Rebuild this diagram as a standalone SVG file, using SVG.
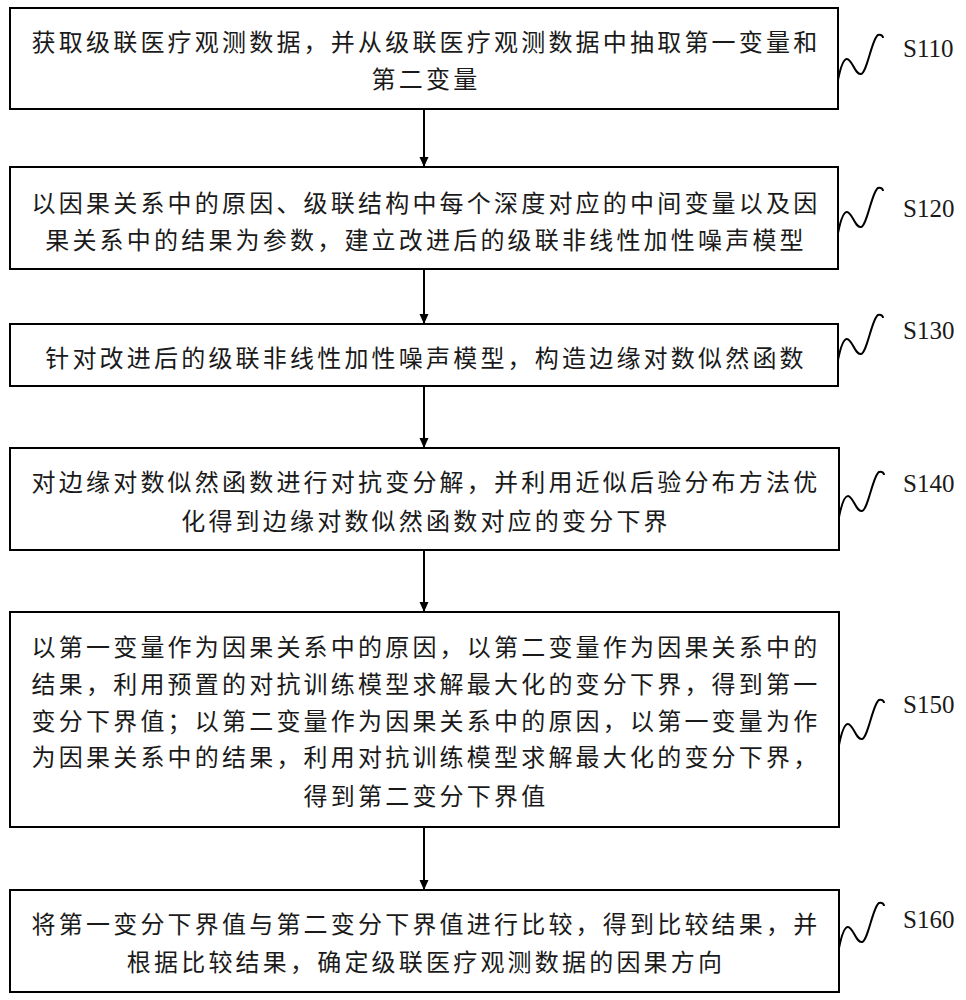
<svg xmlns="http://www.w3.org/2000/svg" width="966" height="1000" viewBox="0 0 966 1000">
<style>
  .box { fill: #ffffff; stroke: #000000; stroke-width: 2; }
  .t { font-family: "Noto Sans CJK SC", "Noto Sans", sans-serif; font-size: 24px; letter-spacing: 3.2px; fill: #1a1a1a; text-anchor: middle; }
  .lbl { font-family: "Liberation Serif", "Times New Roman", serif; font-size: 25px; fill: #1a1a1a; }
  .sq { fill: none; stroke: #000000; stroke-width: 2; }
  .conn { stroke: #000000; stroke-width: 2; fill: none; }
</style>
<defs>
  <marker id="ah" markerUnits="userSpaceOnUse" markerWidth="10" markerHeight="12" refX="10" refY="4.5" orient="auto" viewBox="0 0 10 9">
    <path d="M0,0 L10,4.5 L0,9 Z" fill="#000000"/>
  </marker>
  <path id="squig" class="sq" d="M0,0 C2,-10 5,-21 9,-21 C14,-21 17,-5 23,-6 C29,-7 34,-42 40,-45 C43,-46 45,-44 45,-42"/>
</defs>
<rect width="966" height="1000" fill="#ffffff"/>

<g id="connectors">
  <line class="conn" x1="424" y1="109" x2="424" y2="167" marker-end="url(#ah)"/>
  <line class="conn" x1="424" y1="269" x2="424" y2="324" marker-end="url(#ah)"/>
  <line class="conn" x1="424" y1="386" x2="424" y2="448" marker-end="url(#ah)"/>
  <line class="conn" x1="424" y1="550" x2="424" y2="612" marker-end="url(#ah)"/>
  <line class="conn" x1="424" y1="827" x2="424" y2="890" marker-end="url(#ah)"/>
</g>

<g id="S110">
  <rect class="box" x="10" y="8" width="828" height="101"/>
  <text class="t" x="426" y="51">获取级联医疗观测数据，并从级联医疗观测数据中抽取第一变量和</text>
  <text class="t" x="426" y="88">第二变量</text>
  <use href="#squig" x="838" y="80"/>
  <text class="lbl" x="903" y="57">S110</text>
</g>

<g id="S120">
  <rect class="box" x="10" y="167" width="828" height="102"/>
  <text class="t" x="426" y="212">以因果关系中的原因、级联结构中每个深度对应的中间变量以及因</text>
  <text class="t" x="426" y="249">果关系中的结果为参数，建立改进后的级联非线性加性噪声模型</text>
  <use href="#squig" x="838" y="233"/>
  <text class="lbl" x="903" y="217">S120</text>
</g>

<g id="S130">
  <rect class="box" x="10" y="324" width="828" height="62"/>
  <text class="t" x="426" y="367">针对改进后的级联非线性加性噪声模型，构造边缘对数似然函数</text>
  <use href="#squig" x="838" y="360"/>
  <text class="lbl" x="903" y="339">S130</text>
</g>

<g id="S140">
  <rect class="box" x="10" y="448" width="829" height="102"/>
  <text class="t" x="426" y="491">对边缘对数似然函数进行对抗变分解，并利用近似后验分布方法优</text>
  <text class="t" x="426" y="530">化得到边缘对数似然函数对应的变分下界</text>
  <use href="#squig" x="839" y="517"/>
  <text class="lbl" x="903" y="492">S140</text>
</g>

<g id="S150">
  <rect class="box" x="10" y="612" width="829" height="215"/>
  <text class="t" x="426" y="656">以第一变量作为因果关系中的原因，以第二变量作为因果关系中的</text>
  <text class="t" x="426" y="693">结果，利用预置的对抗训练模型求解最大化的变分下界，得到第一</text>
  <text class="t" x="426" y="730">变分下界值；以第二变量作为因果关系中的原因，以第一变量为作</text>
  <text class="t" x="426" y="766">为因果关系中的结果，利用对抗训练模型求解最大化的变分下界，</text>
  <text class="t" x="426" y="805">得到第二变分下界值</text>
  <use href="#squig" x="839" y="745"/>
  <text class="lbl" x="903" y="713">S150</text>
</g>

<g id="S160">
  <rect class="box" x="10" y="890" width="829" height="102"/>
  <text class="t" x="426" y="933">将第一变分下界值与第二变分下界值进行比较，得到比较结果，并</text>
  <text class="t" x="426" y="971">根据比较结果，确定级联医疗观测数据的因果方向</text>
  <use href="#squig" x="839" y="948"/>
  <text class="lbl" x="903" y="928">S160</text>
</g>
</svg>
